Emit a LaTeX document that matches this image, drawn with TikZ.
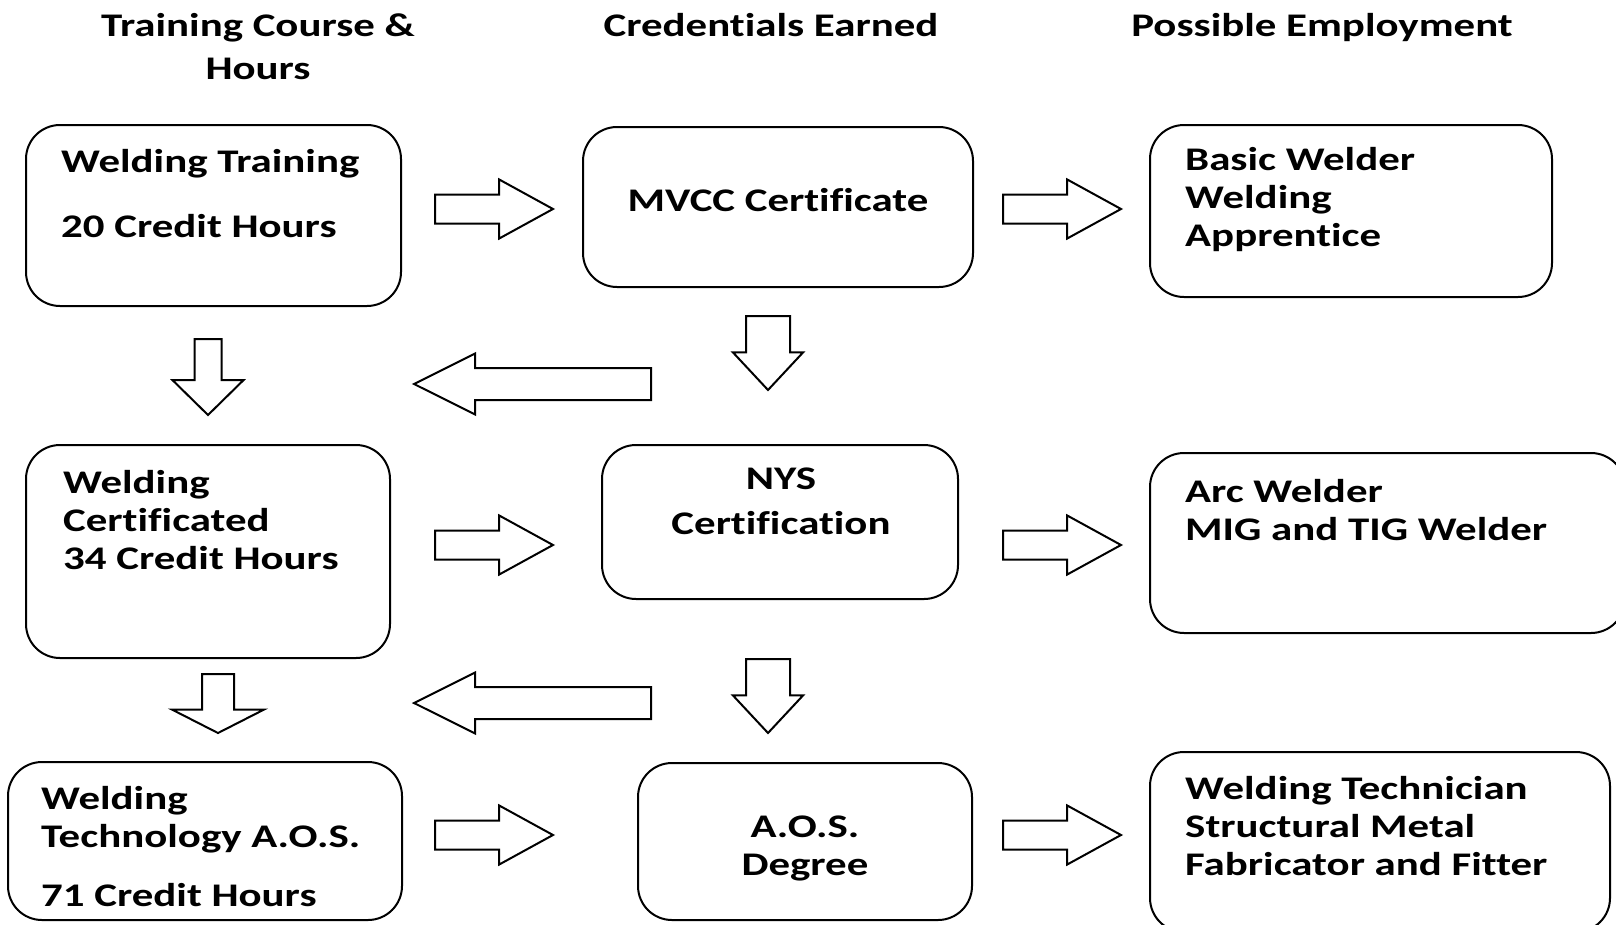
\documentclass[tikz,border=0pt]{standalone}
\usepackage{fontspec}
\setmainfont{Carlito}[FakeStretch=1.3, Ligatures=CommonOff]
\usetikzlibrary{shapes.arrows}

\tikzset{
  box/.style 2 args={draw, line width=2pt, rounded corners=34pt, minimum width=#1, minimum height=#2, inner sep=0pt},
  txt/.style={font=\bfseries\fontsize{33}{38}\selectfont, inner sep=0pt, align=left, anchor=west},
  ctxt/.style={font=\bfseries\fontsize{33}{38}\selectfont, inner sep=0pt, align=center},
  head/.style={font=\bfseries\fontsize{33}{43}\selectfont, inner sep=0pt, align=center},
  blk/.style={draw, line width=2pt, single arrow, inner xsep=0pt, anchor=tail, minimum height=#1},
  rarr/.style={blk=118, inner ysep=13.5, single arrow head extend=15, single arrow tip angle=57.5},
  larr/.style={blk=237, inner ysep=15, single arrow head extend=14.5, single arrow tip angle=53, rotate=180},
  darr/.style={blk=74, inner ysep=21, single arrow head extend=13, single arrow tip angle=86, rotate=-90}
}

\begin{document}
\begin{tikzpicture}[x=1pt, y=-1pt]
  \useasboundingbox (0,0) rectangle (1616,924);

  % column headings
  \node (hd1) [head] at (258,46.5) {Training Course \&\\Hours};
  \node (hd2) [head] at (771,25) {Credentials Earned};
  \node (hd3) [head] at (1322,27.5) {Possible Employment};

  % boxes
  \node (train) [box={375}{181}] at (213.5,215.5) {};
  \node (mvcc) [box={390}{160}] at (778,207) {};
  \node (basic) [box={402}{172}] at (1351,211) {};
  \node (cert) [box={364}{213}] at (208,551.5) {};
  \node (nys) [box={356}{154}] at (780,522) {};
  \node (arc) [box={475}{180}] at (1387.5,543) {};
  \node (tech) [box={394}{158}] at (205,841) {};
  \node (aos) [box={334}{157}] at (805,841.5) {};
  \node (fab) [box={460}{180}] at (1380,842) {};

  % texts
  \node (train-t) [txt] at (61,193.5) {Welding Training\\[27pt]20 Credit Hours};
  \node (mvcc-t) [ctxt] at (778,200) {MVCC Certificate};
  \node (basic-t) [txt] at (1185,200) {Basic Welder\\Welding\\Apprentice};
  \node (cert-t) [txt] at (63,520.5) {Welding\\Certificated\\34 Credit Hours};
  \node (nys-t) [ctxt] at (781,501.5) {NYS\\[7pt]Certification};
  \node (arc-t) [txt] at (1185,510) {Arc Welder\\MIG and TIG Welder};
  \node (tech-t) [txt] at (41,846.5) {Welding\\Technology A.O.S.\\[21pt]71 Credit Hours};
  \node (aos-t) [ctxt] at (805,848.5) {A.O.S.\\Degree};
  \node (fab-t) [txt] at (1185,826.5) {Welding Technician\\Structural Metal\\Fabricator and Fitter};

  % block arrows (placed by their tails)
  \node (r1a) [rarr] at (434,209) {};
  \node (r1b) [rarr] at (1002,209) {};
  \node (r2a) [rarr] at (434,545) {};
  \node (r2b) [rarr] at (1002,545) {};
  \node (r3a) [rarr] at (434,835) {};
  \node (r3b) [rarr] at (1002,835) {};
  \node (l1) [larr] at (652,384) {};
  \node (l2) [larr] at (652,703) {};
  \node (d1a) [darr, blk=76, inner ysep=12.5, single arrow head extend=22, single arrow tip angle=91] at (208,338) {};
  \node (d1b) [darr, blk=59, inner ysep=15, single arrow head extend=30, single arrow tip angle=126] at (218,673) {};
  \node (d2a) [darr] at (768,315) {};
  \node (d2b) [darr] at (768,658) {};
\end{tikzpicture}
\end{document}
